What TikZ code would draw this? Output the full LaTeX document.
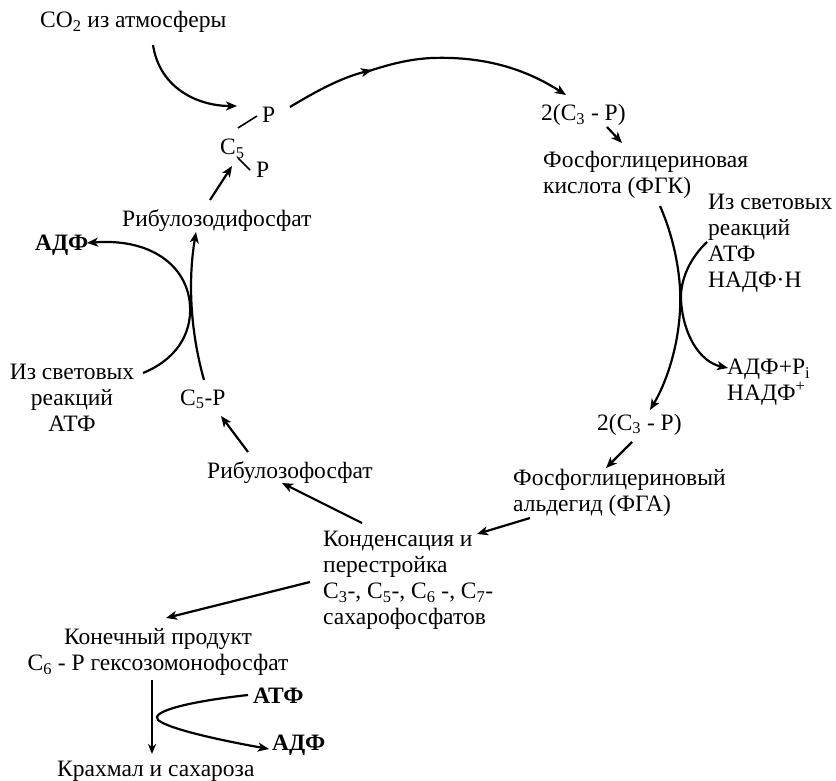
\documentclass[tikz,border=0pt]{standalone}
\usepackage{fontspec}
\setmainfont{Liberation Serif}
\usetikzlibrary{arrows.meta}
\begin{document}
\begin{tikzpicture}[x=1pt,y=-1pt,
  lbl/.style={inner sep=0pt, font=\fontsize{23.5}{26}\selectfont, align=left},
  lblc/.style={inner sep=0pt, font=\fontsize{23.5}{26}\selectfont, align=center},
  bfl/.style={lbl, font=\fontsize{23.5}{26}\selectfont\bfseries},
  arr/.style={line width=2.2pt, -{Stealth[length=11pt,width=9pt,inset=3pt]}},
  thinarr/.style={line width=1.8pt, -{Stealth[length=10pt,width=8pt,inset=3pt]}},
  bond/.style={line width=1.6pt}]
\useasboundingbox (0,0) rectangle (836,781);
% texts
\node[lbl, anchor=base west] (co2) at (40,28) {CO\textsubscript{2} из атмосферы};
\node[lbl, anchor=base west] (ptop) at (262,123) {P};
\node[lbl, anchor=base west] (c5) at (220,155) {C\textsubscript{5}};
\node[lbl, anchor=base west] (plow) at (256,178) {P};
\node[lbl, anchor=base west] (ribdi) at (122,226) {Рибулозодифосфат};
\node[bfl, anchor=base west] (adfL) at (35,251) {АДФ};
\node[lblc, anchor=north] (izL) at (72,364) {Из световых\\реакций\\АТФ};
\node[lbl, anchor=base west] (c5p) at (180,405) {C\textsubscript{5}-P};
\node[lbl, anchor=base west] (ribmono) at (207,478) {Рибулозофосфат};
\node[lbl, anchor=north west] (kond) at (323,531) {Конденсация и\\перестройка\\C\textsubscript{3}-, C\textsubscript{5}-, C\textsubscript{6} -, C\textsubscript{7}-\\сахарофосфатов};
\node[lblc, anchor=north] (konech) at (158,628) {Конечный продукт\\C\textsubscript{6} - P гексозомонофосфат};
\node[bfl, anchor=base west] (atfB) at (253,703) {АТФ};
\node[bfl, anchor=base west] (adfB) at (272,750) {АДФ};
\node[lbl, anchor=base west] (krahmal) at (57,776) {Крахмал и сахароза};
\node[lbl, anchor=base west] (top2c3) at (541,121) {2(C\textsubscript{3} - P)};
\node[lbl, anchor=north west] (fgk) at (543,151) {Фосфоглицериновая\\кислота (ФГК)};
\node[lbl, anchor=north west] (izR) at (708,194) {Из световых\\реакций\\АТФ\\НАДФ·Н};
\node[lbl, anchor=north west] (adfpi) at (727,359) {АДФ+P\textsubscript{i}\\НАДФ\textsuperscript{+}};
\node[lbl, anchor=base west] (low2c3) at (597,430) {2(C\textsubscript{3} - P)};
\node[lbl, anchor=north west] (fga) at (513,469) {Фосфоглицериновый\\альдегид (ФГА)};
% coordinates for connector ends
\coordinate (co2s) at (153,45);
\coordinate (co2e) at (237,106);
\coordinate (cyc1) at (290,107);
\coordinate (cycm) at (372,70);
\coordinate (cycm2) at (366,72);
\coordinate (cyce) at (566,95);
% bonds
\draw[bond] (238,128) -- (257,116);
\draw[bond] (238,158) -- (250,170);
% arrows
\draw[arr] (co2s) .. controls (160,90) and (200,106) .. (co2e);
\draw[arr] (cyc1) .. controls (315,92) and (340,78) .. (cycm);
\draw[arr] (cycm2) .. controls (390,64) and (410,59) .. (432,58) .. controls (490,56) and (530,72) .. (cyce);
\draw[arr] (607,127) -- (622,143);
\draw[arr] (660,206) .. controls (675,240) and (682,280) .. (680,310) .. controls (678,350) and (665,385) .. (650,410);
\draw[arr] (707,242) .. controls (690,258) and (680,280) .. (681,300) .. controls (683,335) and (700,362) .. (728,368);
\draw[arr] (632,442) -- (606,468);
\draw[arr] (530,518) -- (477,534);
\draw[arr] (362,523) -- (282,483);
\draw[arr] (248,452) -- (221,416);
\draw[arr] (204,380) .. controls (190,330) and (188,280) .. (196,232);
\draw[arr] (143,373) .. controls (175,360) and (192,335) .. (190,305) .. controls (187,265) and (150,238) .. (87,243);
\draw[arr] (210,200) -- (232,166);
\draw[arr] (310,582) -- (166,618);
\draw[thinarr] (152,680) -- (152,754);
\draw[arr] (248,695) .. controls (185,702) and (150,712) .. (158,720) .. controls (170,730) and (230,742) .. (269,749);
\end{tikzpicture}
\end{document}
